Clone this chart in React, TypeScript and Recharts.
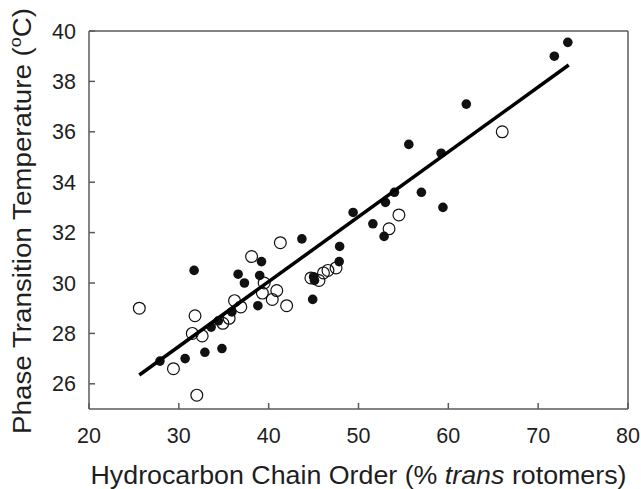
import { ScatterChart, Scatter, XAxis, YAxis, Label } from "recharts";

const filledX = [27.9, 30.7, 31.7, 32.9, 33.6, 34.4, 34.8, 35.9, 36.6, 37.3, 38.8, 39.0, 39.2, 43.7, 44.9, 45.0, 45.1, 47.85, 47.9, 49.4, 51.6, 52.85, 53.0, 54.0, 55.6, 57.0, 59.2, 59.4, 62.0, 71.8, 73.3];
const filledY = [26.9, 27.0, 30.5, 27.25, 28.25, 28.5, 27.4, 28.85, 30.35, 30.0, 29.1, 30.3, 30.85, 31.75, 29.35, 30.25, 30.1, 30.85, 31.45, 32.8, 32.35, 31.85, 33.2, 33.6, 35.5, 33.6, 35.15, 33.0, 37.1, 39.0, 39.55];

const openX = [25.6, 29.4, 31.5, 31.8, 32.0, 32.6, 34.9, 35.6, 36.2, 36.9, 38.1, 39.3, 39.5, 40.4, 40.9, 41.3, 42.0, 44.7, 45.6, 46.1, 46.6, 47.5, 53.4, 54.5, 66.0];
const openY = [29.0, 26.6, 28.0, 28.7, 25.55, 27.9, 28.4, 28.6, 29.3, 29.05, 31.05, 29.6, 30.0, 29.35, 29.7, 31.6, 29.1, 30.2, 30.1, 30.4, 30.5, 30.6, 32.15, 32.7, 36.0];

// regression line end points
const fitX = [25.6, 73.4];
const fitY = [26.35, 38.65];

const xTicks = [20, 30, 40, 50, 60, 70, 80];
const yTicks = [26, 28, 30, 32, 34, 36, 38, 40];

const filled = filledX.map((x, i) => ({ x, y: filledY[i] }));
const open = openX.map((x, i) => ({ x, y: openY[i] }));
const fit = fitX.map((x, i) => ({ x, y: fitY[i] }));

const FONT = "'Liberation Sans', Arial, sans-serif";
const AXIS = "#5a5a5a";
const TEXT = "#1e1e1e";
const tickStyle = { fill: TEXT, fontSize: 21.5, fontFamily: FONT };

const XTitle = (props: any) => {
  const { x, y, width } = props.viewBox;
  return (
    <text
      x={x + width / 2}
      y={y + 75}
      textAnchor="middle"
      fill={TEXT}
      fontSize={25}
      fontFamily={FONT}
      textLength={536}
      lengthAdjust="spacingAndGlyphs"
    >
      Hydrocarbon Chain Order (%{" "}
      <tspan fontStyle="italic">trans</tspan> rotomers)
    </text>
  );
};

const YTitle = (props: any) => {
  const { x, y, height } = props.viewBox;
  const cx = x + 2;
  const cy = y + height / 2 + 1;
  return (
    <text
      x={cx}
      y={cy}
      transform={`rotate(-90, ${cx}, ${cy})`}
      textAnchor="middle"
      fill={TEXT}
      fontSize={25}
      fontFamily={FONT}
      textLength={426}
      lengthAdjust="spacingAndGlyphs"
    >
      Phase Transition Temperature (
      <tspan fontSize={16} dy={-10}>o</tspan>
      <tspan dy={10}>C)</tspan>
    </text>
  );
};

export default function App() {
  return (
    <div style={{ position: "absolute", left: 0, top: 0, width: 641, height: 489, background: "#fff" }}>
      <ScatterChart width={641} height={489} margin={{ top: 30, right: 12, left: 29, bottom: 40 }}>
        <XAxis
          dataKey="x"
          type="number"
          domain={[20, 80]}
          ticks={xTicks}
          interval={0}
          height={40}
          tickSize={-6}
          tickMargin={25}
          tick={tickStyle}
          axisLine={{ stroke: AXIS, strokeWidth: 1.5 }}
          tickLine={{ stroke: AXIS, strokeWidth: 1.5 }}
        >
          <Label content={XTitle} />
        </XAxis>
        <XAxis
          xAxisId="top"
          orientation="top"
          dataKey="x"
          type="number"
          domain={[20, 80]}
          ticks={xTicks}
          interval={0}
          height={1}
          tickSize={-6}
          tickFormatter={() => ""}
          axisLine={{ stroke: AXIS, strokeWidth: 1.5 }}
          tickLine={{ stroke: AXIS, strokeWidth: 1.5 }}
        />
        <YAxis
          dataKey="y"
          type="number"
          domain={[25, 40]}
          ticks={yTicks}
          interval={0}
          width={60}
          tickSize={-6}
          tickMargin={19}
          tick={tickStyle}
          axisLine={{ stroke: AXIS, strokeWidth: 1.5 }}
          tickLine={{ stroke: AXIS, strokeWidth: 1.5 }}
        >
          <Label content={YTitle} />
        </YAxis>
        <YAxis
          yAxisId="right"
          orientation="right"
          dataKey="y"
          type="number"
          domain={[25, 40]}
          ticks={yTicks}
          interval={0}
          width={1}
          tickSize={-6}
          tickFormatter={() => ""}
          axisLine={{ stroke: AXIS, strokeWidth: 1.5 }}
          tickLine={{ stroke: AXIS, strokeWidth: 1.5 }}
        />
        <Scatter
          data={filled}
          isAnimationActive={false}
          shape={(p: any) => <circle cx={p.cx} cy={p.cy} r={4.8} fill="#111" />}
        />
        <Scatter
          data={open}
          isAnimationActive={false}
          shape={(p: any) => <circle cx={p.cx} cy={p.cy} r={5.9} fill="none" stroke="#111" strokeWidth={1.2} />}
        />
        <Scatter
          data={fit}
          isAnimationActive={false}
          line={{ stroke: "#000", strokeWidth: 3.5 }}
          shape={() => <g />}
        />
      </ScatterChart>
    </div>
  );
}
